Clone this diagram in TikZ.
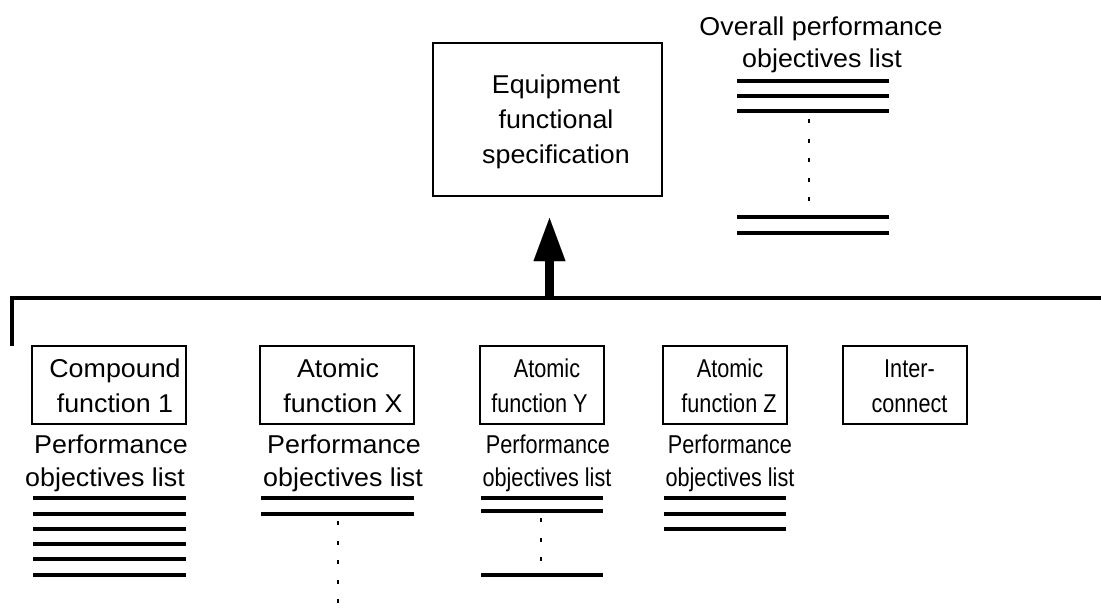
\documentclass[tikz,border=0pt]{standalone}
\usepackage{fontspec}
\setmainfont{Liberation Sans}
\newfontfamily\widefnt[FakeStretch=1.04]{Liberation Sans}
\newfontfamily\narrowfnt[FakeStretch=0.84]{Liberation Sans}
\usetikzlibrary{arrows.meta}
\begin{document}
\begin{tikzpicture}[x=1pt,y=-1pt,
  wtxt/.style={anchor=base, inner sep=0pt, font=\widefnt\fontsize{25.8}{30}\selectfont},
  ntxt/.style={anchor=base, inner sep=0pt, font=\narrowfnt\fontsize{25.8}{30}\selectfont},
  box/.style={draw, line width=2.7pt, inner sep=0pt, minimum height=78pt},
  bigbox/.style={draw, line width=2.7pt, inner sep=0pt, minimum width=229pt, minimum height=153pt},
  listline/.style={line width=3.3pt},
  dotline/.style={line width=1.3pt, dash pattern=on 4pt off 15.6pt},
  busline/.style={line width=4pt},
  uparrow/.style={line width=9pt, -{Triangle[length=43pt,width=32pt,line width=0.01pt]}, shorten >=20.7pt}
]
\useasboundingbox (0,0) rectangle (1101,616);

% top: equipment specification
\node[bigbox] (eq) at (547.5,119.5) {};
\node[wtxt] (eq1) at (556,93) {Equipment};
\node[wtxt] (eq2) at (556,128) {functional};
\node[wtxt] (eq3) at (556,163) {specification};

% overall performance objectives list
\node[wtxt] (ov1) at (821,35) {Overall performance};
\node[wtxt] (ov2) at (822,67) {objectives list};
\foreach \yy in {81,96,111,217,233} \draw[listline] (737,\yy) -- (889,\yy);
\draw[dotline] (809,119) -- (809,203);

% bus
\coordinate (busL) at (12,298);
\coordinate (busLd) at (12,346);
\coordinate (busR) at (1101,298);
\coordinate (busA) at (549.5,298);
\draw[busline] (busLd) -- (busL) -- (busR);
\draw[uparrow] (busA) -- (eq.south -| busA);

% function boxes
\node[box, minimum width=154pt] (cf) at (109,385) {};
\node[box, minimum width=154pt] (ax) at (337,385) {};
\node[box, minimum width=124pt] (ay) at (542,385) {};
\node[box, minimum width=124pt] (az) at (725,385) {};
\node[box, minimum width=124pt] (ic) at (905,385) {};

\node[wtxt] (cf1) at (115,377) {Compound};
\node[wtxt] (cf2) at (115,412) {function 1};
\node[wtxt] (ax1) at (338,377) {Atomic};
\node[wtxt] (ax2) at (343,412) {function X};
\node[ntxt] (ay1) at (547,377) {Atomic};
\node[ntxt] (ay2) at (539.5,412) {function Y};
\node[ntxt] (az1) at (730,377) {Atomic};
\node[ntxt] (az2) at (729,412) {function Z};
\node[ntxt] (ic1) at (909.5,377) {Inter-};
\node[ntxt] (ic2) at (909.5,412) {connect};

% performance objectives lists
\node[wtxt] (pc1) at (111,453) {Performance};
\node[wtxt] (pc2) at (105,486) {objectives list};
\node[wtxt] (px1) at (344,453) {Performance};
\node[wtxt] (px2) at (343,486) {objectives list};
\node[ntxt] (py1) at (548,453) {Performance};
\node[ntxt] (py2) at (547,486) {objectives list};
\node[ntxt] (pz1) at (730,453) {Performance};
\node[ntxt] (pz2) at (730,486) {objectives list};

\foreach \yy in {498,514,529,544,559,575} \draw[listline] (33,\yy) -- (186,\yy);
\foreach \yy in {498,514} \draw[listline] (261,\yy) -- (414,\yy);
\draw[dotline] (338,521) -- (338,605);
\foreach \yy in {498,511,575} \draw[listline] (481,\yy) -- (603,\yy);
\draw[dotline] (541,518) -- (541,563);
\foreach \yy in {498,514,529} \draw[listline] (664,\yy) -- (786,\yy);
\end{tikzpicture}
\end{document}
